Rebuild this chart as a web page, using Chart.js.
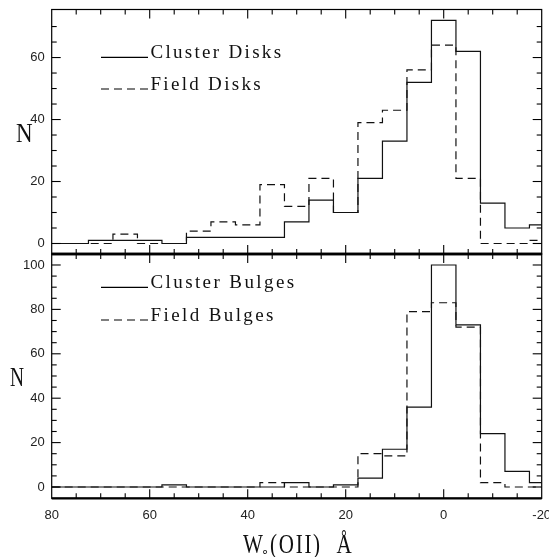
<!DOCTYPE html>
<html>
<head>
<meta charset="utf-8">
<script src="https://cdn.jsdelivr.net/npm/chart.js@4"></script>
<style>
  html, body { margin: 0; padding: 0; background: #fff; }
  #wrap { position: relative; width: 549px; height: 557px; }
  canvas { position: absolute; left: 0; top: 0; }
</style>
</head>
<body>
<div id="wrap">
  <canvas id="top" width="549" height="557"></canvas>
  <canvas id="bot" width="549" height="557"></canvas>
</div>
<script>
// ---- data (bin centres, W0(OII) in Angstrom) ----
const binCenters    = [80, 75, 70, 65, 60, 55, 50, 45, 40, 35, 30, 25, 20, 15, 10, 5, 0, -5, -10, -15, -20];
const clusterDisks  = [ 0,  0,  1,  1,  1,  0,  2,  2,  2,  2,  7, 14, 10, 21, 33, 52, 72, 62, 13, 5, 6];
const fieldDisks    = [ 0,  0,  0,  3,  0,  0,  4,  7,  6, 19, 12, 21, 10, 39, 43, 56, 64, 21,  0, 0, 1];
const clusterBulges = [ 0,  0,  0,  0,  0,  1,  0,  0,  0,  0,  2,  0,  1,  4, 17, 36,100, 73, 24, 7, 2];
const fieldBulges   = [ 0,  0,  0,  0,  0,  0,  0,  0,  0,  2,  0,  0,  0, 15, 14, 79, 83, 72,  2, 0, 0];
const xTickLabels   = [80, 60, 40, 20, 0, -20];
const topYTicks     = [0, 20, 40, 60];
const botYTicks     = [0, 20, 40, 60, 80, 100];
const topLabels     = ['Cluster Disks', 'Field Disks'];
const botLabels     = ['Cluster Bulges', 'Field Bulges'];
const yTitle        = 'N';
const xTitleParts   = ['W', '\u2218', '(OII)', '\u00C5'];

const pts = arr => binCenters.map((c, i) => ({ x: c, y: arr[i] }));

function txt(ctx, s, x, y, size, sx, ls, family, color) {
  ctx.save();
  ctx.translate(x, y);
  ctx.scale(sx, 1);
  ctx.font = size + 'px ' + family;
  ctx.letterSpacing = ls + 'px';
  ctx.textAlign = 'left';
  ctx.textBaseline = 'alphabetic';
  ctx.fillStyle = color || '#111';
  ctx.fillText(s, 0, 0);
  ctx.restore();
}

const decor = {
  id: 'decor',
  afterDatasetsDraw(chart, args, o) {
    const { ctx, chartArea: a, scales } = chart;
    const xs = scales.x, ys = scales.y;
    ctx.save();
    ctx.strokeStyle = '#000';
    ctx.lineWidth = 1.2;
    ctx.setLineDash([]);
    ctx.strokeRect(a.left, a.top, a.right - a.left, a.bottom - a.top);
    ctx.lineWidth = o.thickBottom;
    ctx.beginPath(); ctx.moveTo(a.left, a.bottom); ctx.lineTo(a.right, a.bottom); ctx.stroke();
    ctx.lineWidth = o.thickTop;
    ctx.beginPath(); ctx.moveTo(a.left, a.top); ctx.lineTo(a.right, a.top); ctx.stroke();
    ctx.lineWidth = 1.1;
    const line = (x1, y1, x2, y2) => { ctx.beginPath(); ctx.moveTo(x1, y1); ctx.lineTo(x2, y2); ctx.stroke(); };
    // x tick marks (inward, top and bottom)
    for (let v = -20; v <= 80; v += 5) {
      const px = xs.getPixelForValue(v);
      if (px <= a.left + 1 || px >= a.right - 1) continue;
      const len = xTickLabels.includes(v) ? 9 : 5;
      line(px, a.top, px, a.top + len);
      line(px, a.bottom, px, a.bottom - len);
    }
    // y tick marks (inward, left and right)
    for (let v = 0; v <= ys.max; v += 5) {
      const py = ys.getPixelForValue(v);
      if (py <= a.top + 2 || py >= a.bottom - 1) continue;
      const len = o.yTicks.includes(v) ? 9 : 5;
      line(a.left, py, a.left + len, py);
      line(a.right, py, a.right - len, py);
    }
    // legend
    chart.data.datasets.forEach((ds, i) => {
      const y = o.legendY[i];
      ctx.lineWidth = 1.2;
      ctx.setLineDash(ds.borderDash || []);
      line(101, y, 148, y);
      ctx.setLineDash([]);
      txt(ctx, ds.label, 150.5, y + 1, 19, 1, o.legendLS, '"Liberation Serif", serif');
    });
    // y title
    txt(ctx, yTitle, o.nX, o.nY, o.nSize, o.nSx, 0, '"Liberation Serif", serif');
    // x title
    if (o.xTitle) {
      const f = '"Liberation Serif", serif';
      txt(ctx, xTitleParts[0], 243, 552.5, 27, 0.78, 0, f);
      txt(ctx, xTitleParts[1], 261, 556, 13, 1, 0, '"DejaVu Sans", sans-serif');
      txt(ctx, xTitleParts[2], 270, 552.5, 27, 0.78, 2.2, f);
      txt(ctx, xTitleParts[3], 336.5, 552.5, 27, 0.78, 0, f);
    }
    ctx.restore();
  }
};

function makeChart(id, d1, d2, labels, yMin, yMax, yTicks, pad, showX, decorOpts) {
  return new Chart(document.getElementById(id), {
    type: 'line',
    data: {
      datasets: [
        { label: labels[0], data: pts(d1), stepped: 'middle', borderColor: '#111', borderWidth: 1.2,
          pointRadius: 0, fill: false },
        { label: labels[1], data: pts(d2), stepped: 'middle', borderColor: '#111', borderWidth: 1.2,
          borderDash: [8, 5], pointRadius: 0, fill: false }
      ]
    },
    options: {
      responsive: false,
      animation: false,
      devicePixelRatio: 1,
      layout: { padding: pad },
      plugins: { legend: { display: false }, tooltip: { enabled: false }, decor: decorOpts },
      scales: {
        x: {
          type: 'linear', min: -20, max: 80, reverse: true,
          display: showX,
          grid: { display: false, drawTicks: false },
          border: { display: false },
          afterBuildTicks: s => { s.ticks = xTickLabels.map(v => ({ value: v })); },
          afterFit: s => { s.height = showX ? 40 : 0; s.paddingLeft = 0; s.paddingRight = 0; },
          ticks: { padding: 9, maxRotation: 0, autoSkip: false, color: '#222',
                   font: { family: '"Liberation Sans", Arial, sans-serif', size: 13 } }
        },
        y: {
          type: 'linear', min: yMin, max: yMax,
          grid: { display: false, drawTicks: false },
          border: { display: false },
          afterBuildTicks: s => { s.ticks = yTicks.map(v => ({ value: v })); },
          afterFit: s => { s.width = 51.7; s.paddingTop = 0; s.paddingBottom = 0; },
          ticks: { padding: 7, color: '#222',
                   font: { family: '"Liberation Sans", Arial, sans-serif', size: 13 } }
        }
      }
    },
    plugins: [decor]
  });
}

makeChart('top', clusterDisks, fieldDisks, topLabels, -3.39, 75.5, topYTicks,
  { top: 9.5, bottom: 303, left: 0, right: 7.3 }, false,
  { thickTop: 1.2, thickBottom: 2.6, yTicks: topYTicks, legendY: [57.3, 89], legendLS: 2.3,
    nX: 16, nY: 142, nSize: 28, nSx: 0.82, xTitle: false });

makeChart('bot', clusterBulges, fieldBulges, botLabels, -5.09, 104.95, botYTicks,
  { top: 254, bottom: 18.7, left: 0, right: 7.3 }, true,
  { thickTop: 2.6, thickBottom: 2.2, yTicks: botYTicks, legendY: [287.3, 320], legendLS: 2.4,
    nX: 10, nY: 386, nSize: 27, nSx: 0.72, xTitle: true });
</script>
</body>
</html>
